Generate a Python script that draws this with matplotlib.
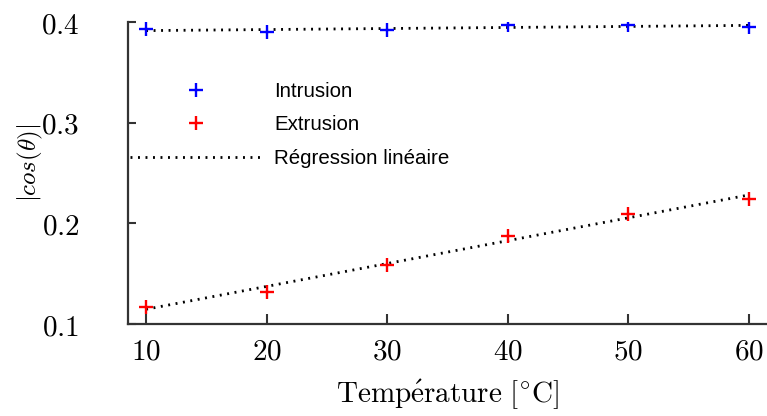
import numpy as np
import matplotlib
matplotlib.use("Agg")
import matplotlib.pyplot as plt

plt.rcParams['mathtext.fontset'] = 'cm'

temperature = [10, 20, 30, 40, 50, 60]
intrusion = [0.3927, 0.3903, 0.3923, 0.3970, 0.3970, 0.3950]
extrusion = [0.1172, 0.1320, 0.1586, 0.1874, 0.2092, 0.2241]
xticks = [10, 20, 30, 40, 50, 60]
yticks = [0.1, 0.2, 0.3, 0.4]

fig = plt.figure(figsize=(7.67, 4.16), dpi=100)
ax = fig.add_axes([128/767, 1-324/416, 1-128/767, (324-22)/416])

DOT = (0, (0.7, 2.0))
x = np.array(temperature, dtype=float)
for ys in (intrusion, extrusion):
    p = np.polyfit(x, ys, 1)
    ax.plot(x, np.polyval(p, x), color='black', lw=2.0, linestyle=DOT, zorder=2)

ax.plot(temperature, intrusion, '+', color='#0000ff', ms=10, mew=1.7, zorder=3)
ax.plot(temperature, extrusion, '+', color='#ff0000', ms=10, mew=1.7, zorder=3)

ax.set_xlim(8.5, 61.5)
ax.set_ylim(0.1, 0.4)
ax.set_xticks(xticks)
ax.set_xticklabels([r'$%d$' % t for t in xticks])
ax.set_yticks(yticks)
ax.set_yticklabels([r'$%.1f$' % t for t in yticks])
ax.tick_params(direction='in', length=6, width=1.5, color='#333333', labelsize=21)
ax.tick_params(axis='y', pad=35)
ax.tick_params(axis='x', length=7, pad=10)
for s in ('top', 'right'):
    ax.spines[s].set_visible(False)
for s in ('left', 'bottom'):
    ax.spines[s].set_linewidth(1.6)
    ax.spines[s].set_color('#333333')

ax.set_xlabel(r'$\mathrm{Temp\acute{e}rature}\ [^{\circ}\mathrm{C}]$', fontsize=21, labelpad=8)
ax.set_ylabel(r'$|cos(\theta)|$', fontsize=18)
ax.yaxis.set_label_coords((45-128)/639, (324-163)/302)

from matplotlib.lines import Line2D
handles = [
    Line2D([], [], marker='+', ls='none', color='#0000ff', ms=10, mew=1.7),
    Line2D([], [], marker='+', ls='none', color='#ff0000', ms=10, mew=1.7),
    Line2D([], [], color='black', lw=2.0, linestyle=DOT),
]
labels = ['Intrusion', 'Extrusion', 'Régression linéaire']
ax.legend(handles, labels, loc='center left', bbox_to_anchor=(0.003, (324-125)/302),
          frameon=False, borderpad=0, borderaxespad=0, handlelength=6.4,
          handletextpad=0.63, labelspacing=0.7,
          prop={'family': 'Liberation Sans', 'size': 14.8})

fig.savefig('out.png', dpi=100)
